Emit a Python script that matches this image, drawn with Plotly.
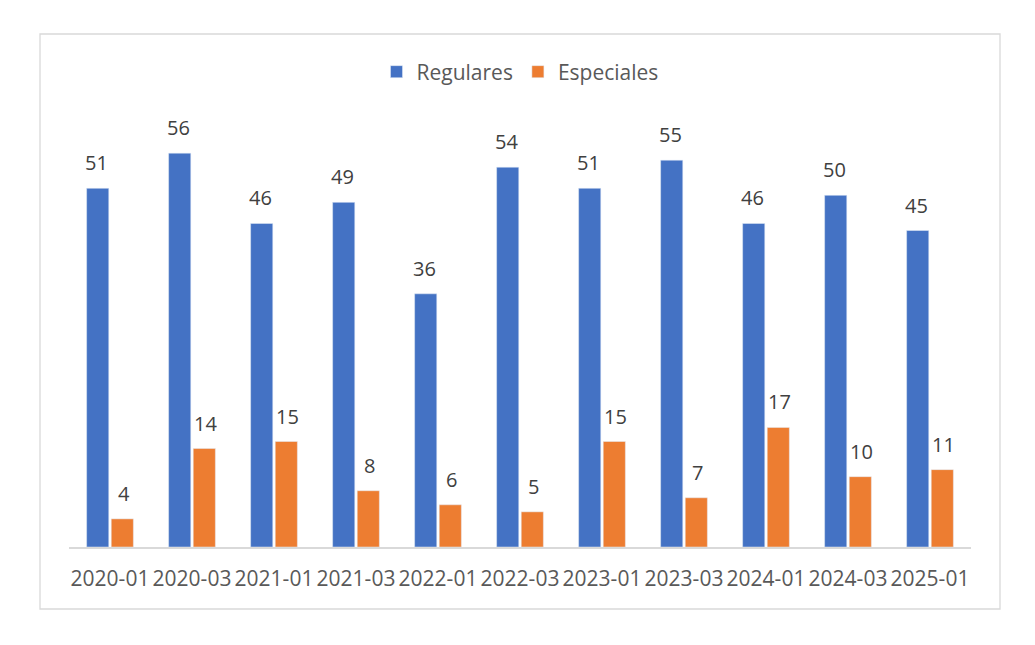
import plotly.graph_objects as go

categories = ["2020-01", "2020-03", "2021-01", "2021-03", "2022-01", "2022-03",
              "2023-01", "2023-03", "2024-01", "2024-03", "2025-01"]
regulares = [51, 56, 46, 49, 36, 54, 51, 55, 46, 50, 45]
especiales = [4, 14, 15, 8, 6, 5, 15, 7, 17, 10, 11]

FONT = "Open Sans"
BLUE = "#4472C4"
ORANGE = "#ED7D31"

fig = go.Figure()
fig.add_trace(go.Bar(name="Regulares", x=categories, y=regulares, marker_color=BLUE))
fig.add_trace(go.Bar(name="Especiales", x=categories, y=especiales, marker_color=ORANGE))

for series, shift in ((regulares, -13.5), (especiales, 13.5)):
    for c, v in zip(categories, series):
        fig.add_annotation(x=c, y=v, text=str(v), showarrow=False, xshift=shift,
                           yanchor="bottom", yshift=10,
                           font=dict(family=FONT, size=20, color="#404040"))

OFF = 8  # page body margin
W, H = 1019, 629
L, T = 69 - OFF, 125 - OFF
R = W - (971 - OFF)
B = H - (547 - OFF)
pw, ph = W - L - R, H - T - B
base = 547 - OFF
fig.add_shape(type="rect", xref="paper", yref="paper",
              x0=(40 - OFF - L) / pw, x1=(1000 - OFF - L) / pw,
              y0=(base - (609 - OFF)) / ph, y1=(base - (34 - OFF)) / ph,
              line=dict(color="#D9D9D9", width=1.3), fillcolor="rgba(0,0,0,0)", layer="below")

fig.update_layout(
    width=W, height=H,
    margin=dict(l=L, r=R, t=T, b=B),
    paper_bgcolor="white", plot_bgcolor="white",
    barmode="group", bargap=0.4, bargroupgap=0.1,
    font=dict(family=FONT, color="#595959"),
    legend=dict(orientation="h", x=0.5, xanchor="center", y=(base - (72 - OFF)) / ph, yanchor="middle",
                font=dict(family=FONT, size=21, color="#595959"), itemwidth=30,
                traceorder="normal"),
    xaxis=dict(type="category", showline=True, linecolor="#D9D9D9", linewidth=1.5, ticks="",
               tickangle=0, ticklabelstandoff=12,
               tickfont=dict(family=FONT, size=21, color="#595959"), showgrid=False),
    yaxis=dict(range=[0, 60], visible=False, showgrid=False, zeroline=False),
)

fig.write_html("out.html")
